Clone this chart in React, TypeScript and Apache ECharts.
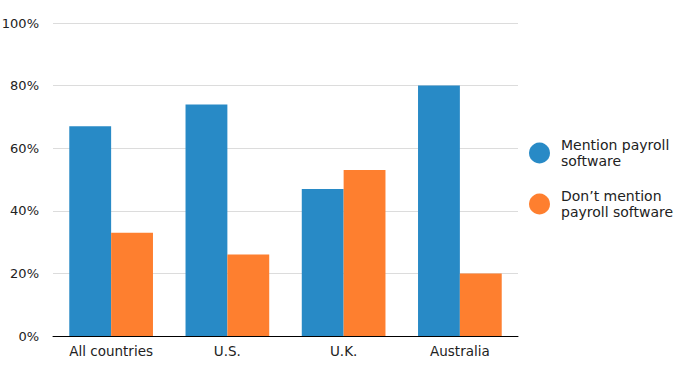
import React, { useEffect, useRef } from "react";
import * as echarts from "echarts";

const categories = ["All countries", "U.S.", "U.K.", "Australia"];
const mentionValues = [67, 74, 47, 80];
const dontMentionValues = [33, 26, 53, 20];
const seriesNames = ["Mention payroll\nsoftware", "Don\u2019t mention\npayroll software"];

export default function App() {
  const ref = useRef<HTMLDivElement>(null);
  useEffect(() => {
    if (!ref.current) return;
    const chart = echarts.init(ref.current, null, { renderer: "svg" });
    const font = "DejaVu Sans, Verdana, sans-serif";
    chart.setOption({
      animation: false,
      textStyle: { fontFamily: font },
      grid: { left: 53, right: 157, top: 23, bottom: 41, containLabel: false, outerBoundsMode: "none" },
      legend: {
        orient: "vertical",
        left: 529,
        top: 137,
        padding: 0,
        icon: "circle",
        itemWidth: 21,
        itemHeight: 21,
        itemGap: 19,
        selectedMode: false,
        textStyle: { fontFamily: font, fontSize: 14, color: "#222", lineHeight: 16, padding: [0, 0, 0, 6] },
        data: seriesNames,
      },
      xAxis: {
        type: "category",
        data: categories,
        axisTick: { show: false },
        axisLine: { lineStyle: { color: "#000", width: 1 } },
        axisLabel: { fontFamily: font, fontSize: 13.5, color: "#222", margin: 8 },
      },
      yAxis: {
        type: "value",
        min: 0,
        max: 100,
        interval: 20,
        axisLine: { show: false },
        axisTick: { show: false },
        splitLine: { lineStyle: { color: "#dcdcdc" } },
        axisLabel: { fontFamily: font, fontSize: 13, color: "#222", margin: 14, formatter: "{value}%" },
      },
      series: [
        {
          name: seriesNames[0],
          type: "bar",
          data: mentionValues,
          barGap: "0%",
          barCategoryGap: "28%",
          itemStyle: { color: "#288ac6" },
        },
        {
          name: seriesNames[1],
          type: "bar",
          data: dontMentionValues,
          barGap: "0%",
          barCategoryGap: "28%",
          itemStyle: { color: "#fe7f2f" },
        },
      ],
    });
    return () => chart.dispose();
  }, []);
  return <div ref={ref} style={{ width: 675, height: 377, position: "absolute", left: 0, top: 0 }} />;
}
